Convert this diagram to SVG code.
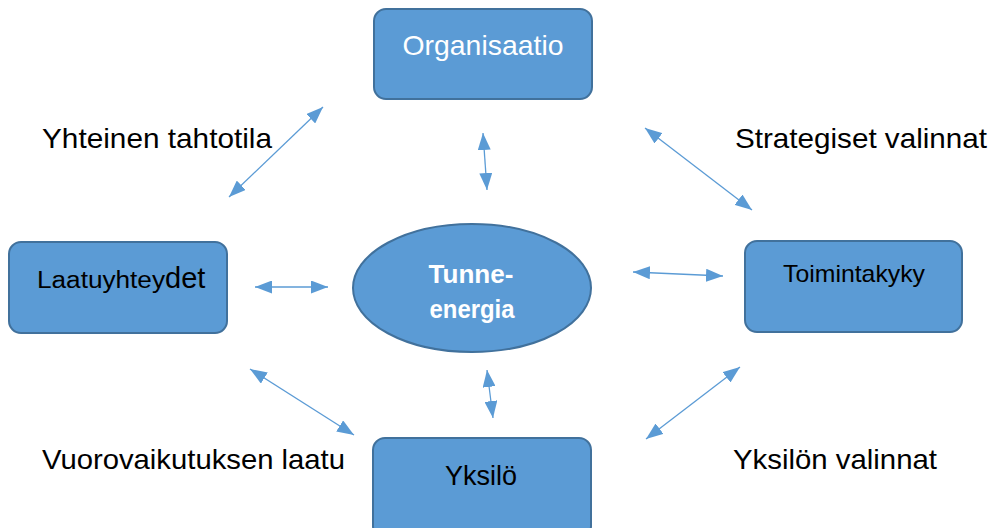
<svg xmlns="http://www.w3.org/2000/svg" width="992" height="528" viewBox="0 0 992 528">
<defs>
<marker id="ah" viewBox="0 0 10 10" refX="10" refY="5" markerWidth="17" markerHeight="13" markerUnits="userSpaceOnUse" orient="auto-start-reverse" preserveAspectRatio="none">
<path d="M0,0 L10,5 L0,10 z" fill="#5B9BD5"/>
</marker>
</defs>
<style>
.box{fill:#5B9BD5;stroke:#41719C;stroke-width:2}
.t{font-family:"Liberation Sans",Arial,sans-serif}
.lbl{font-family:"Liberation Sans",Arial,sans-serif;font-size:28px;fill:#000}
.con line{stroke:#5B9BD5;stroke-width:1.3;marker-start:url(#ah);marker-end:url(#ah)}
</style>
<rect width="992" height="528" fill="#fff"/>
<g id="organisaatio">
<rect class="box" x="374" y="9" width="218" height="90" rx="12"/>
<text class="t" x="483" y="55" font-size="28" fill="#fff" text-anchor="middle" textLength="161" lengthAdjust="spacingAndGlyphs">Organisaatio</text>
</g>
<g id="laatuyhteydet">
<rect class="box" x="9" y="242" width="218" height="91" rx="12"/>
<text class="t" x="37" y="288" fill="#000"><tspan font-size="23" textLength="128" lengthAdjust="spacingAndGlyphs">Laatuyhtey</tspan><tspan font-size="29">det</tspan></text>
</g>
<g id="toimintakyky">
<rect class="box" x="745" y="241" width="217" height="91" rx="12"/>
<text class="t" x="854" y="282" font-size="24" fill="#000" text-anchor="middle" textLength="142" lengthAdjust="spacingAndGlyphs">Toimintakyky</text>
</g>
<g id="tunne-energia">
<ellipse class="box" cx="472" cy="288" rx="119" ry="64"/>
<text class="t" x="471" y="283" font-size="25" font-weight="bold" fill="#fff" text-anchor="middle" textLength="85" lengthAdjust="spacingAndGlyphs">Tunne-</text>
<text class="t" x="472" y="318" font-size="25" font-weight="bold" fill="#fff" text-anchor="middle" textLength="85" lengthAdjust="spacingAndGlyphs">energia</text>
</g>
<g id="yksilo">
<rect class="box" x="373" y="438" width="218" height="100" rx="12"/>
<text class="t" x="481" y="485" font-size="28" fill="#000" text-anchor="middle" textLength="72" lengthAdjust="spacingAndGlyphs">Yksilö</text>
</g>
<g id="labels">
<text class="lbl" x="42" y="148" textLength="230" lengthAdjust="spacingAndGlyphs">Yhteinen tahtotila</text>
<text class="lbl" x="735" y="148" textLength="252" lengthAdjust="spacingAndGlyphs">Strategiset valinnat</text>
<text class="lbl" x="42" y="469" textLength="303" lengthAdjust="spacingAndGlyphs">Vuorovaikutuksen laatu</text>
<text class="lbl" x="733" y="469" textLength="204" lengthAdjust="spacingAndGlyphs">Yksilön valinnat</text>
</g>
<g id="connectors" class="con">
<line x1="323" y1="107" x2="229" y2="197"/>
<line x1="645" y1="128" x2="752" y2="210"/>
<line x1="483" y1="133" x2="487" y2="190"/>
<line x1="255" y1="287" x2="328" y2="287"/>
<line x1="633" y1="272" x2="723" y2="276"/>
<line x1="487" y1="370" x2="493" y2="418"/>
<line x1="250" y1="369" x2="354" y2="435"/>
<line x1="740" y1="367" x2="646" y2="439"/>
</g>
</svg>
